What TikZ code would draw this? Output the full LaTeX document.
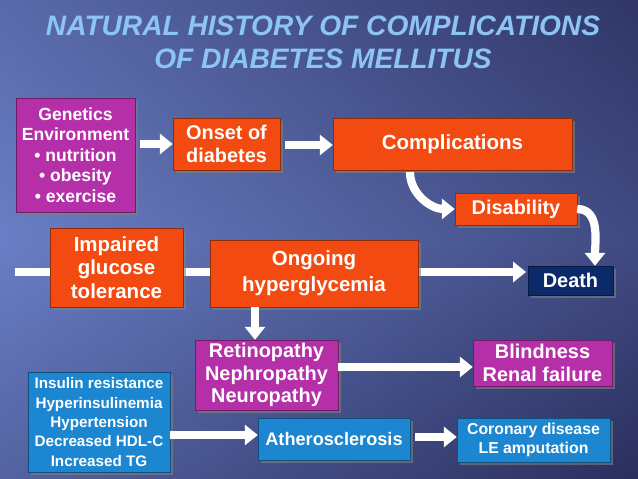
\documentclass[tikz,border=0pt]{standalone}
\usepackage{fontspec}
\setmainfont{Liberation Sans}
\usetikzlibrary{arrows.meta,shadows}
\definecolor{bgdark}{HTML}{2B2F5E}
\definecolor{bglight}{HTML}{6F86CF}
\definecolor{redbox}{HTML}{F24A10}
\definecolor{magbox}{HTML}{B52FA8}
\definecolor{bluebox}{HTML}{1C86D0}
\definecolor{navybox}{HTML}{0C2A6A}
\definecolor{titleblue}{HTML}{8CC4F4}
\newcommand{\fs}[2]{\bfseries\fontsize{#1}{#2}\selectfont}
\tikzset{
  box/.style={draw=#1!60!black, fill=#1, text=white, align=center, inner sep=1pt,
    drop shadow={opacity=0.6}},
  wh/.style 2 args={minimum width=#1*0.8536pt, minimum height=#2*0.8536pt},
  bigarrow/.style={white, line width=7pt, -{Triangle[length=11pt,width=17pt]}},
}
\begin{document}
\begin{tikzpicture}[x=0.03cm,y=-0.03cm]
		% background
		\shade[top color=bgdark!80!bglight, bottom color=bgdark, middle color=bglight!80!bgdark] (0,0) rectangle (638,479);
		\shade[left color=bglight, right color=bgdark, opacity=0.6] (0,0) rectangle (638,479);
		\useasboundingbox (0,0) rectangle (638,479);

		% title
		\node[text=titleblue, font=\bfseries\itshape\fontsize{24}{28}\selectfont, align=center] (title) at (323,42)
			{NATURAL HISTORY OF COMPLICATIONS\\OF DIABETES MELLITUS};

		% main line behind boxes
		\coordinate (start) at (15,272);
		\coordinate (deathin) at (526,272);
		\draw[bigarrow] (start) -- (deathin);

		% upper row
		\node[box=magbox, wh={119}{114}, font=\fs{15}{17.5}] (gen) at (75.5,155)
			{Genetics\\Environment\\\textbullet{} nutrition\\\textbullet{} obesity\\\textbullet{} exercise};
		\node[box=redbox, wh={107}{52}, align=left, font=\fs{17}{19}] (onset) at (226.5,144) {Onset of\\diabetes};
		\node[box=redbox, wh={239}{52}, font=\fs{17.5}{20}] (compl) at (452.5,144) {Complications};
		\node[box=redbox, wh={122}{32}, font=\fs{17}{20}] (disab) at (516,209) {Disability};

		% middle row
		\node[box=redbox, wh={133}{79}, font=\fs{17.5}{20}] (igt) at (116.5,267.5) {Impaired\\glucose\\tolerance};
		\node[box=redbox, wh={208}{67}, font=\fs{17.5}{22}] (hyper) at (314,273.5) {Ongoing\\hyperglycemia};
		\node[box=navybox, wh={85}{29}, font=\fs{17}{20}] (death) at (570.5,280.5) {Death};

		% lower rows
		\node[box=magbox, wh={143}{70}, font=\fs{17}{19}] (retino) at (266.5,375) {Retinopathy\\Nephropathy\\Neuropathy};
		\node[box=magbox, wh={139}{46}, font=\fs{17}{19}] (blind) at (542.5,363) {Blindness\\Renal failure};
		\node[box=bluebox, wh={142}{100}, font=\fs{13}{16.5}] (insulin) at (99,422)
			{Insulin resistance\\Hyperinsulinemia\\Hypertension\\Decreased HDL-C\\Increased TG};
		\node[box=bluebox, wh={152}{42}, font=\fs{15.5}{18}] (athero) at (334,439) {Atherosclerosis};
		\node[box=bluebox, wh={153}{44}, font=\fs{13.5}{16}] (coron) at (533.5,440) {Coronary disease\\LE amputation};

		% arrows
		\draw[bigarrow] (140,144) -- (onset.west |- 0,144);
		\draw[bigarrow] (285,145) -- (compl.west |- 0,145);
		\draw[bigarrow] (410,172) to[out=-90,in=180] (disab.west);
		\draw[bigarrow] (disab.east) to[out=0,in=90] (death.north -| 595,0);
		\draw[bigarrow] (hyper.south -| 255,0) -- (retino.north -| 255,0);
		\draw[bigarrow] (retino.east |- 0,367) -- (blind.west |- 0,367);
		\draw[bigarrow] (insulin.east |- 0,435) -- (athero.west |- 0,435);
		\draw[bigarrow] (415,437) -- (coron.west |- 0,437);
	\end{tikzpicture}
\end{document}
